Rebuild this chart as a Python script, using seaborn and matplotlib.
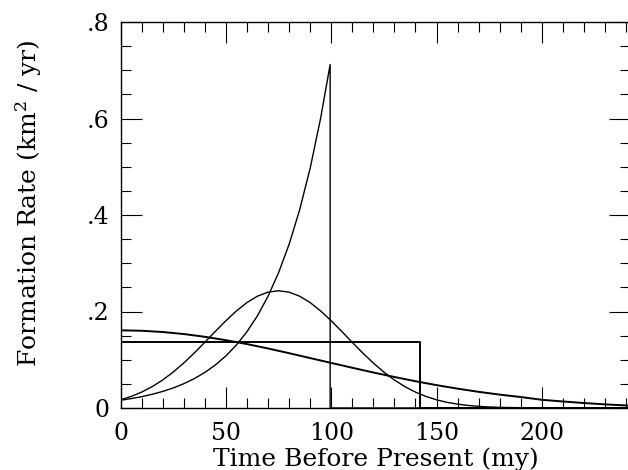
import matplotlib
matplotlib.use("Agg")
import matplotlib.pyplot as plt
import seaborn as sns
import pandas as pd
from matplotlib.ticker import MultipleLocator

# ---- data ----
exp_x = [0, 5, 10, 15, 20, 25, 30, 35, 40, 45, 50, 55, 60, 65, 70, 75, 80, 85, 90, 95, 99.5, 99.5, 242]
exp_y = [0.0160, 0.0194, 0.0234, 0.0284, 0.0343, 0.0415, 0.0503, 0.0608, 0.0736, 0.0891,
         0.1079, 0.1305, 0.1580, 0.1912, 0.2314, 0.2801, 0.3390, 0.4103, 0.4966, 0.6010,
         0.712, 0.0, 0.0]

gauss_x = [0, 5, 10, 15, 20, 25, 30, 35, 40, 45, 50, 55, 60, 65, 70, 75, 80, 85, 90, 95,
           100, 105, 110, 115, 120, 125, 130, 135, 140, 145, 150, 155, 160, 165, 170, 175,
           180, 190, 242]
gauss_y = [0.0170, 0.0239, 0.0329, 0.0442, 0.0580, 0.0744, 0.0932, 0.1139, 0.1361, 0.1587,
           0.1808, 0.2011, 0.2185, 0.2318, 0.2401, 0.2430, 0.2401, 0.2318, 0.2185, 0.2011,
           0.1808, 0.1587, 0.1361, 0.1139, 0.0932, 0.0744, 0.0580, 0.0442, 0.0329, 0.0239,
           0.0170, 0.0117, 0.0080, 0.0053, 0.0034, 0.0021, 0.0013, 0.0005, 0.0]

box_x = [0, 142, 142, 242]
box_y = [0.137, 0.137, 0.0, 0.0]

decay_x = [0, 10, 20, 30, 40, 50, 60, 70, 80, 90, 100, 110, 120, 130, 140, 150, 160, 170,
           180, 190, 200, 210, 220, 230, 242]
decay_y = [0.1610, 0.1601, 0.1575, 0.1533, 0.1476, 0.1406, 0.1325, 0.1234, 0.1136, 0.1035,
           0.0934, 0.0834, 0.0736, 0.0643, 0.0555, 0.0474, 0.0401, 0.0335, 0.0277, 0.0227,
           0.0170, 0.0135, 0.0103, 0.0075, 0.0048]

x_ticks = [0, 50, 100, 150, 200]
x_tick_labels = ["0", "50", "100", "150", "200"]
y_ticks = [0, 0.2, 0.4, 0.6, 0.8]
y_tick_labels = ["0", ".2", ".4", ".6", ".8"]

# ---- plotting ----
sns.set_theme(style="white")
plt.rcParams["font.family"] = ["DejaVu Serif"]
plt.rcParams["mathtext.fontset"] = "dejavuserif"

fig = plt.figure(figsize=(6.28, 4.70), dpi=100)
ax = fig.add_axes([120.5 / 628, 1 - 408 / 470, 242 * 2.107 / 628, 386 / 470])

series = [
    (exp_x, exp_y, 1.0),
    (gauss_x, gauss_y, 1.0),
    (box_x, box_y, 1.4),
    (decay_x, decay_y, 1.4),
]
for xs, ys, lw in series:
    df = pd.DataFrame({"x": xs, "y": ys})
    sns.lineplot(data=df, x="x", y="y", ax=ax, estimator=None, sort=False,
                 color="black", linewidth=lw)

ax.set_xlim(0, 242)
ax.set_ylim(0, 0.8)
ax.set_xticks(x_ticks, x_tick_labels)
ax.set_yticks(y_ticks, y_tick_labels)
ax.xaxis.set_minor_locator(MultipleLocator(10))
ax.yaxis.set_minor_locator(MultipleLocator(0.05))

ax.tick_params(which="both", direction="in", top=True, right=True, bottom=True, left=True,
               color="black", width=0.8, labelcolor="black", labelsize=17)
ax.tick_params(which="major", length=15)
ax.tick_params(which="minor", length=7.5)
ax.tick_params(axis="x", which="major", pad=10)
ax.tick_params(axis="y", which="major", pad=8)

for sp in ax.spines.values():
    sp.set_visible(True)
    sp.set_color("black")
    sp.set_linewidth(1.0)

ax.set_xlabel("Time Before Present (my)", fontsize=18, color="black", labelpad=2)
ax.set_ylabel("Formation Rate (km$^2$ / yr)", fontsize=18, color="black")
ax.yaxis.set_label_coords(-0.15, 0.53)

fig.savefig("out.png", dpi=100)
